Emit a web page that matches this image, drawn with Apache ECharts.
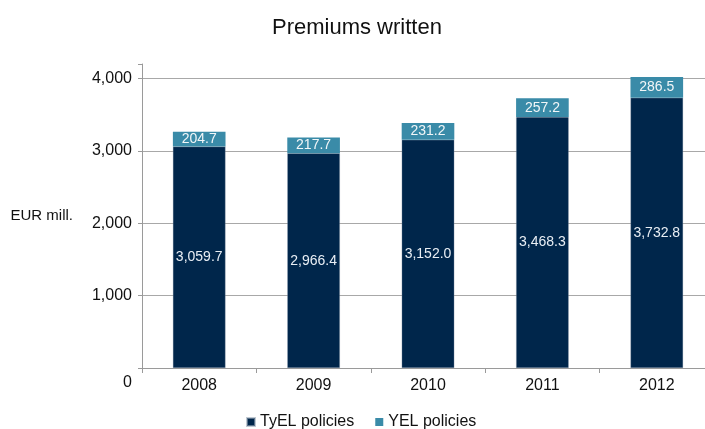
<!DOCTYPE html>
<html>
<head>
<meta charset="utf-8">
<script src="https://cdn.jsdelivr.net/npm/echarts@6/dist/echarts.min.js"></script>
<style>
  html, body { margin: 0; padding: 0; background: #fff; }
  #chart { width: 705px; height: 429px; }
</style>
</head>
<body>
<div id="chart"></div>
<script>
// Premiums written, EUR million
const years = ['2008', '2009', '2010', '2011', '2012'];
const tyelPolicies = [3059.7, 2966.4, 3152.0, 3468.3, 3732.8];
const yelPolicies = [204.7, 217.7, 231.2, 257.2, 286.5];
const yTicks = [0, 1000, 2000, 3000, 4000];

const fmt = v => v.toLocaleString('en-US', { minimumFractionDigits: 1, maximumFractionDigits: 1 });
const FONT = '"Liberation Sans", Arial, sans-serif';

const chart = echarts.init(document.getElementById('chart'));
chart.setOption({
  animation: false,
  textStyle: { fontFamily: FONT },
  title: {
    text: 'Premiums written',
    left: 267,
    top: 12,
    textStyle: { fontFamily: FONT, fontSize: 22, fontWeight: 'normal', color: '#111' }
  },
  legend: {
    top: 409,
    left: 241,
    itemWidth: 8,
    itemHeight: 8,
    itemGap: 21,
    icon: 'rect',
    textStyle: { fontFamily: FONT, fontSize: 16, color: '#111' },
    data: ['TyEL policies', 'YEL policies']
  },
  grid: { left: 142, right: -9, top: 64, bottom: 61, containLabel: false, outerBoundsMode: 'none' },
  xAxis: {
    type: 'category',
    data: years,
    axisLine: { lineStyle: { color: '#9a9a9a', width: 1 } },
    axisTick: { show: true, length: 5, lineStyle: { color: '#9a9a9a' } },
    axisLabel: { fontFamily: FONT, fontSize: 16, color: '#111', margin: 10 }
  },
  yAxis: {
    type: 'value',
    min: 0,
    max: 4200,
    interval: 1000,
    name: 'EUR mill.',
    nameLocation: 'middle',
    nameRotate: 0,
    nameGap: 69,
    nameTextStyle: { fontFamily: FONT, fontSize: 15, color: '#111' },
    axisLine: { show: true, lineStyle: { color: '#9a9a9a', width: 1 } },
    axisTick: { show: true, length: 4, lineStyle: { color: '#9a9a9a' } },
    splitLine: {
      show: true,
      lineStyle: { color: ['#9a9a9a', '#a8a8a8', '#a8a8a8', '#a8a8a8', '#a8a8a8', 'rgba(0,0,0,0)'], width: 1 }
    },
    axisLabel: {
      fontFamily: FONT,
      fontSize: 16,
      color: '#111',
      margin: 10,
      formatter: v => {
        if (!yTicks.includes(v)) return '';
        if (v === 0) return '{z|0}';
        return v.toLocaleString('en-US');
      },
      rich: { z: { fontFamily: FONT, fontSize: 16, color: '#111', padding: [30, 0, 0, 0] } }
    }
  },
  series: [
    {
      name: 'TyEL policies',
      type: 'bar',
      stack: 'total',
      barCategoryGap: '54%',
      data: tyelPolicies,
      itemStyle: { color: '#00264b', borderColor: 'rgba(150,165,180,0.6)', borderWidth: 0.5 },
      label: {
        show: true,
        position: 'inside',
        formatter: p => fmt(p.value),
        fontFamily: FONT,
        fontSize: 14,
        color: '#e8eef4'
      }
    },
    {
      name: 'YEL policies',
      type: 'bar',
      stack: 'total',
      data: yelPolicies,
      itemStyle: { color: '#3a8ba8' },
      label: {
        show: true,
        position: 'inside',
        formatter: p => fmt(p.value),
        fontFamily: FONT,
        fontSize: 14,
        color: '#f2f6f8'
      }
    }
  ]
});
</script>
</body>
</html>
